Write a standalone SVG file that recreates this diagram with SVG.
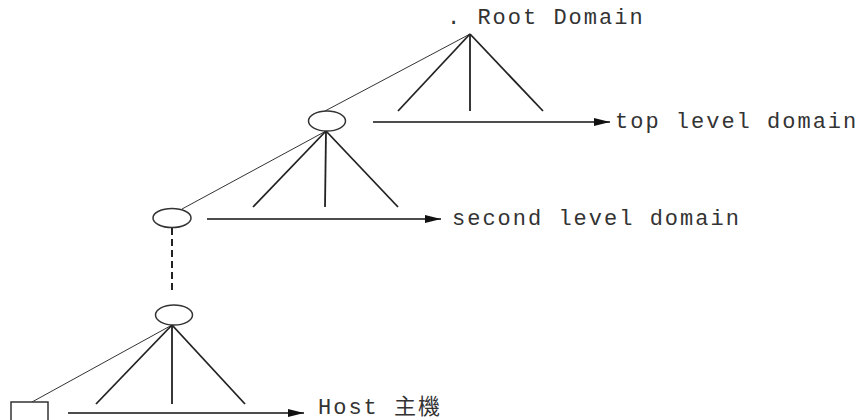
<svg xmlns="http://www.w3.org/2000/svg" width="860" height="420" viewBox="0 0 860 420">
<defs>
<marker id="ah" viewBox="0 0 16 8" refX="16" refY="4" markerWidth="16" markerHeight="8" markerUnits="userSpaceOnUse" orient="auto">
<path d="M0,0 L16,4 L0,8 Z" fill="#111"/>
</marker>
<style>
.thin{stroke:#333;stroke-width:1;fill:none}
.thick{stroke:#222;stroke-width:1.8;fill:none}
.node{stroke:#333;stroke-width:1.5;fill:#fff}
.arrow{stroke:#111;stroke-width:1.5;fill:none;marker-end:url(#ah)}
.dash{stroke:#222;stroke-width:2;stroke-dasharray:7 4;fill:none}
.lbl{font-family:"Liberation Mono","Noto Sans CJK TC",monospace;font-size:22px;letter-spacing:2px;fill:#333}
</style>
</defs>
<rect width="860" height="420" fill="#fff"/>
<g id="connectors">
<line class="thin" x1="470" y1="34" x2="325" y2="111"/>
<line class="thick" x1="470" y1="34" x2="398" y2="111"/>
<line class="thick" x1="470" y1="34" x2="470" y2="111"/>
<line class="thick" x1="470" y1="34" x2="543" y2="111"/>
<line class="thin" x1="326" y1="131" x2="182" y2="209"/>
<line class="thick" x1="326" y1="131" x2="253" y2="207"/>
<line class="thick" x1="326" y1="131" x2="325" y2="207"/>
<line class="thick" x1="326" y1="131" x2="398" y2="207"/>
<line class="dash" x1="172" y1="228" x2="172" y2="294"/>
<line class="thin" x1="172" y1="325" x2="32" y2="402"/>
<line class="thick" x1="172" y1="325" x2="96" y2="404"/>
<line class="thick" x1="172" y1="325" x2="172" y2="404"/>
<line class="thick" x1="172" y1="325" x2="245" y2="404"/>
<line class="arrow" x1="373" y1="122" x2="610" y2="122"/>
<line class="arrow" x1="207" y1="219" x2="441" y2="219"/>
<line class="arrow" x1="68" y1="413" x2="304" y2="413"/>
</g>
<g id="root">
<text class="lbl" x="447" y="24" xml:space="preserve">. Root Domain</text>
</g>
<g id="top-level">
<ellipse class="node" cx="327" cy="121" rx="18.5" ry="10"/>
<text class="lbl" x="615" y="128">top level domain</text>
</g>
<g id="second-level">
<ellipse class="node" cx="172" cy="218" rx="19" ry="9.5"/>
<text class="lbl" x="452" y="225">second level domain</text>
</g>
<g id="lower-level">
<ellipse class="node" cx="174" cy="315" rx="18.5" ry="10"/>
</g>
<g id="host">
<rect class="node" x="11" y="402" width="37" height="25"/>
<text class="lbl" x="318" y="414">Host 主機</text>
</g>
</svg>
